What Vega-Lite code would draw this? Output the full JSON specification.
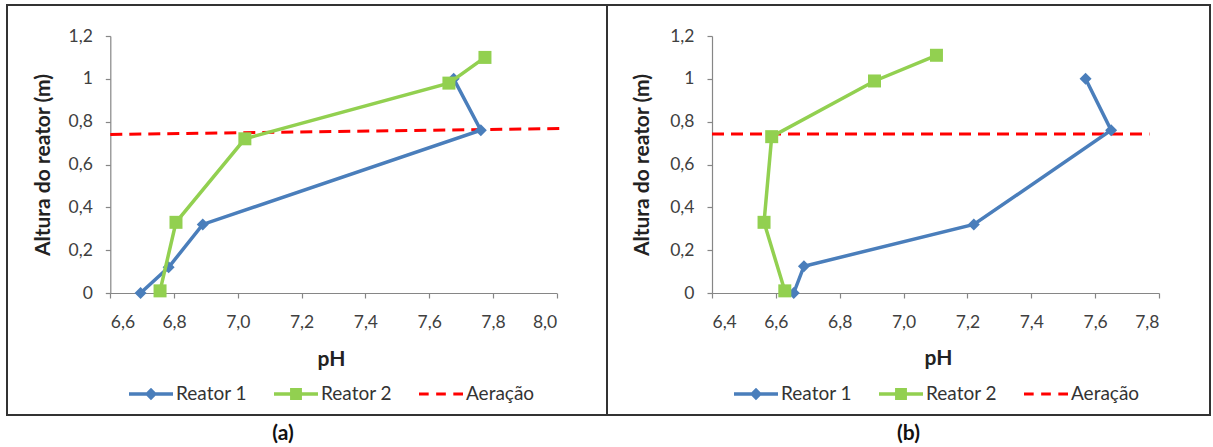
{
  "$schema": "https://vega.github.io/schema/vega-lite/v6.json",
  "padding": {"left": 6, "top": 4, "right": 0, "bottom": 0},
  "background": "white",
  "datasets": {
    "a": [
      {"serie": "Reator 1", "ph": 6.695, "altura": 0.0},
      {"serie": "Reator 1", "ph": 6.783, "altura": 0.12},
      {"serie": "Reator 1", "ph": 6.89, "altura": 0.32},
      {"serie": "Reator 1", "ph": 7.762, "altura": 0.76},
      {"serie": "Reator 1", "ph": 7.677, "altura": 1.0},
      {"serie": "Reator 2", "ph": 6.756, "altura": 0.01},
      {"serie": "Reator 2", "ph": 6.806, "altura": 0.33},
      {"serie": "Reator 2", "ph": 7.022, "altura": 0.72},
      {"serie": "Reator 2", "ph": 7.662, "altura": 0.98},
      {"serie": "Reator 2", "ph": 7.775, "altura": 1.1},
      {"serie": "Aeração", "ph": 6.6, "altura": 0.74},
      {"serie": "Aeração", "ph": 8.01, "altura": 0.768}
    ],
    "b": [
      {"serie": "Reator 1", "ph": 6.656, "altura": 0.0},
      {"serie": "Reator 1", "ph": 6.688, "altura": 0.125},
      {"serie": "Reator 1", "ph": 7.22, "altura": 0.32},
      {"serie": "Reator 1", "ph": 7.65, "altura": 0.76},
      {"serie": "Reator 1", "ph": 7.57, "altura": 1.0},
      {"serie": "Reator 2", "ph": 6.628, "altura": 0.01},
      {"serie": "Reator 2", "ph": 6.563, "altura": 0.33},
      {"serie": "Reator 2", "ph": 6.587, "altura": 0.73},
      {"serie": "Reator 2", "ph": 6.909, "altura": 0.99},
      {"serie": "Reator 2", "ph": 7.103, "altura": 1.11},
      {"serie": "Aeração", "ph": 6.4, "altura": 0.742},
      {"serie": "Aeração", "ph": 7.77, "altura": 0.742}
    ]
  },
  "hconcat": [
    {
      "width": 600,
      "height": 410,
      "data": {"name": "a"},
      "title": {"text": "(a)", "orient": "bottom", "fontSize": 21, "fontWeight": "bold", "color": "#111", "offset": 8, "dx": -24},
      "encoding": {
        "x": {
          "field": "ph", "type": "quantitative",
          "scale": {"domain": [6.6, 8.0], "range": [103.3, 549.7], "zero": false, "nice": false},
          "axis": {"values": [6.6, 6.8, 7.0, 7.2, 7.4, 7.6, 7.8, 8.0], "labelExpr": "replace(format(datum.value, '.1f'), '.', ',')", "offset": -122, "title": "pH", "titleX": 324, "titleY": 66, "titleBaseline": "middle"}
        },
        "y": {
          "field": "altura", "type": "quantitative",
          "scale": {"domain": [0, 1.2], "range": [288, 31], "zero": false, "nice": false},
          "axis": {"values": [0, 0.2, 0.4, 0.6, 0.8, 1.0, 1.2], "labelExpr": "replace(format(datum.value, '.1~f'), '.', ',')", "offset": -103.3, "title": "Altura do reator (m)", "titleX": -67, "titleY": 159.5, "titleBaseline": "middle", "titleAngle": -90}
        }
      },
      "layer": [
        {"transform": [{"filter": "datum.serie === 'Aeração'"}], "mark": {"type": "line", "color": "#FF0000", "strokeWidth": 3, "strokeDash": [12, 7]}},
        {"transform": [{"filter": "datum.serie === 'Reator 1'"}], "mark": {"type": "line", "color": "#4A7EBB", "strokeWidth": 3.5}, "encoding": {"order": {"field": "altura", "type": "quantitative"}}},
        {"transform": [{"filter": "datum.serie === 'Reator 1'"}], "mark": {"type": "point", "shape": "diamond", "filled": true, "size": 144, "color": "#4A7EBB", "opacity": 1}},
        {"transform": [{"filter": "datum.serie === 'Reator 2'"}], "mark": {"type": "line", "color": "#92D050", "strokeWidth": 3.5}, "encoding": {"order": {"field": "altura", "type": "quantitative"}}},
        {"transform": [{"filter": "datum.serie === 'Reator 2'"}], "mark": {"type": "square", "size": 169, "color": "#92D050", "opacity": 1}},
        {
          "mark": {"type": "point", "filled": true, "opacity": 0},
          "encoding": {
            "color": {"field": "serie", "type": "nominal", "scale": {"domain": ["Reator 1", "Reator 2", "Aeração"], "range": ["#4A7EBB", "#92D050", "#FF0000"]}, "legend": {"title": null, "orient": "none", "legendX": 122, "legendY": 367, "direction": "horizontal", "columns": 3, "symbolSize": 1936, "symbolOpacity": 1, "symbolStrokeWidth": 0, "labelFontSize": 19, "labelColor": "#333", "labelOffset": 3, "columnPadding": 27}},
            "shape": {"field": "serie", "type": "nominal", "scale": {"domain": ["Reator 1", "Reator 2", "Aeração"], "range": ["M-1,-0.08H1V0.08H-1Z M0,-0.28L0.28,0L0,0.28L-0.28,0Z", "M-1,-0.08H1V0.08H-1Z M-0.27,-0.27H0.27V0.27H-0.27Z", "M-1,-0.07H-0.56V0.07H-1Z M-0.22,-0.07H0.22V0.07H-0.22Z M0.56,-0.07H1V0.07H0.56Z"]}, "legend": {"title": null, "orient": "none", "legendX": 122, "legendY": 367, "direction": "horizontal", "columns": 3, "symbolSize": 1936, "symbolOpacity": 1, "symbolStrokeWidth": 0, "labelFontSize": 19, "labelColor": "#333", "labelOffset": 3, "columnPadding": 27}}
          }
        }
      ]
    },
    {
      "width": 603,
      "height": 410,
      "data": {"name": "b"},
      "title": {"text": "(b)", "orient": "bottom", "fontSize": 21, "fontWeight": "bold", "color": "#111", "offset": 8, "dx": 0},
      "encoding": {
        "x": {
          "field": "ph", "type": "quantitative",
          "scale": {"domain": [6.4, 7.8], "range": [105, 552], "zero": false, "nice": false},
          "axis": {"values": [6.4, 6.6, 6.8, 7.0, 7.2, 7.4, 7.6, 7.8], "labelExpr": "replace(format(datum.value, '.1f'), '.', ',')", "offset": -122, "title": "pH", "titleX": 331, "titleY": 65, "titleBaseline": "middle"}
        },
        "y": {
          "field": "altura", "type": "quantitative",
          "scale": {"domain": [0, 1.2], "range": [288, 31], "zero": false, "nice": false},
          "axis": {"values": [0, 0.2, 0.4, 0.6, 0.8, 1.0, 1.2], "labelExpr": "replace(format(datum.value, '.1~f'), '.', ',')", "offset": -105, "title": "Altura do reator (m)", "titleX": -70, "titleY": 159.5, "titleBaseline": "middle", "titleAngle": -90}
        }
      },
      "layer": [
        {"transform": [{"filter": "datum.serie === 'Aeração'"}], "mark": {"type": "line", "color": "#FF0000", "strokeWidth": 3, "strokeDash": [12, 7]}},
        {"transform": [{"filter": "datum.serie === 'Reator 1'"}], "mark": {"type": "line", "color": "#4A7EBB", "strokeWidth": 3.5}, "encoding": {"order": {"field": "altura", "type": "quantitative"}}},
        {"transform": [{"filter": "datum.serie === 'Reator 1'"}], "mark": {"type": "point", "shape": "diamond", "filled": true, "size": 144, "color": "#4A7EBB", "opacity": 1}},
        {"transform": [{"filter": "datum.serie === 'Reator 2'"}], "mark": {"type": "line", "color": "#92D050", "strokeWidth": 3.5}, "encoding": {"order": {"field": "altura", "type": "quantitative"}}},
        {"transform": [{"filter": "datum.serie === 'Reator 2'"}], "mark": {"type": "square", "size": 169, "color": "#92D050", "opacity": 1}},
        {
          "mark": {"type": "point", "filled": true, "opacity": 0},
          "encoding": {
            "color": {"field": "serie", "type": "nominal", "scale": {"domain": ["Reator 1", "Reator 2", "Aeração"], "range": ["#4A7EBB", "#92D050", "#FF0000"]}, "legend": {"title": null, "orient": "none", "legendX": 127, "legendY": 367, "direction": "horizontal", "columns": 3, "symbolSize": 1936, "symbolOpacity": 1, "symbolStrokeWidth": 0, "labelFontSize": 19, "labelColor": "#333", "labelOffset": 3, "columnPadding": 27}},
            "shape": {"field": "serie", "type": "nominal", "scale": {"domain": ["Reator 1", "Reator 2", "Aeração"], "range": ["M-1,-0.08H1V0.08H-1Z M0,-0.28L0.28,0L0,0.28L-0.28,0Z", "M-1,-0.08H1V0.08H-1Z M-0.27,-0.27H0.27V0.27H-0.27Z", "M-1,-0.07H-0.56V0.07H-1Z M-0.22,-0.07H0.22V0.07H-0.22Z M0.56,-0.07H1V0.07H0.56Z"]}, "legend": {"title": null, "orient": "none", "legendX": 127, "legendY": 367, "direction": "horizontal", "columns": 3, "symbolSize": 1936, "symbolOpacity": 1, "symbolStrokeWidth": 0, "labelFontSize": 19, "labelColor": "#333", "labelOffset": 3, "columnPadding": 27}}
          }
        }
      ]
    }
  ],
  "spacing": 0,
  "bounds": "flush",
  "resolve": {
    "scale": {"color": "independent", "shape": "independent"},
    "legend": {"color": "independent", "shape": "independent"}
  },
  "config": {
    "font": "Lato",
    "view": {"stroke": "#333", "strokeWidth": 2},
    "axis": {
      "grid": false,
      "labelFont": "Lato", "labelFontSize": 17.5, "labelColor": "#404040",
      "titleFont": "Lato", "titleFontSize": 21, "titleFontWeight": "bold", "titleColor": "#222",
      "domainColor": "#868686", "domainWidth": 1.2, "tickColor": "#868686", "tickWidth": 1.2, "tickSize": 5
    },
    "axisX": {"labelPadding": 15},
    "axisY": {"labelPadding": 13},
    "legend": {"labelFont": "Lato"}
  }
}
